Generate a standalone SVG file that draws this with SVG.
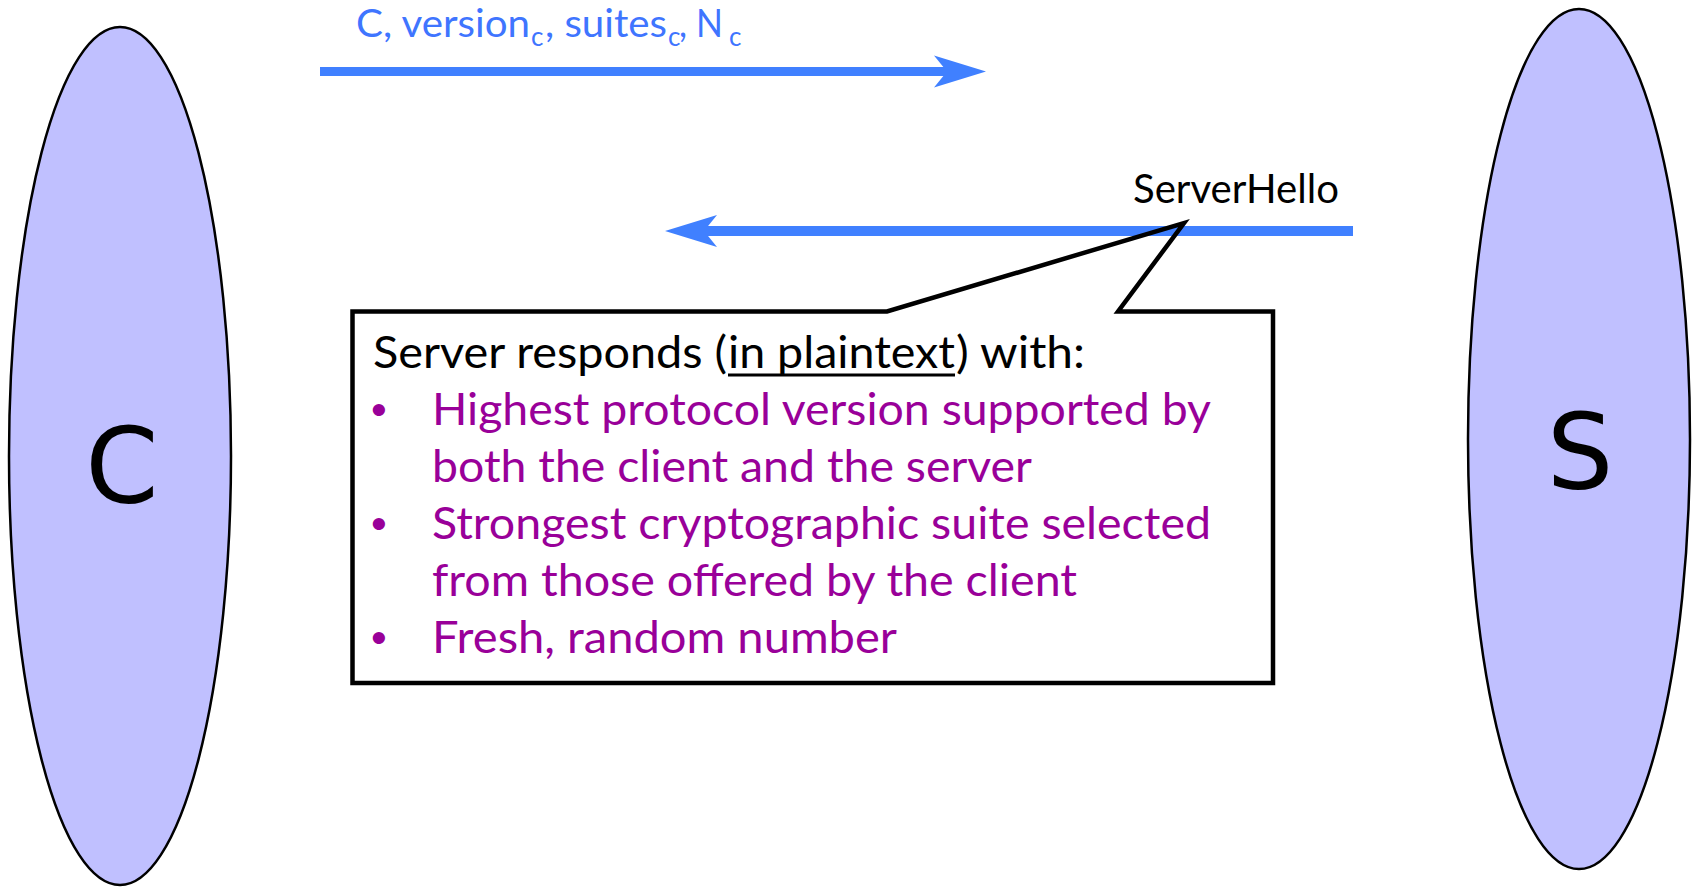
<svg xmlns="http://www.w3.org/2000/svg" width="1692" height="887" viewBox="0 0 1692 887">
<style>
.party{fill:#C0C0FF;stroke:#000;stroke-width:2.5}
.plabel{font-family:"DejaVu Sans",sans-serif;font-size:105px;fill:#000;text-anchor:middle}
.msg{stroke:#4080FF;fill:none}
.blue{font-family:Lato,"Liberation Sans",sans-serif;fill:#3F75FF}
.lbl{font-family:Lato,"Liberation Sans",sans-serif;fill:#000}
.boxfill{fill:#fff;stroke:none}
.box{fill:none;stroke:#000;stroke-width:4.5;stroke-linejoin:miter;stroke-miterlimit:12}
.bt{font-family:Lato,"Liberation Sans",sans-serif;font-size:45px;fill:#000}
.pt{font-family:Lato,"Liberation Sans",sans-serif;font-size:45px;fill:#990099}
.bul{font-family:"Liberation Sans",sans-serif;font-size:45px;fill:#990099;text-anchor:middle}
</style>
<defs>
<marker id="ah" markerUnits="userSpaceOnUse" markerWidth="60" markerHeight="40" viewBox="-15 -20 60 40" refX="0" refY="0" orient="auto" overflow="visible">
<path d="M39,0 L-13,-16 L0,0 L-13,16 Z" fill="#4080FF"/>
</marker>
</defs>
<g id="client">
<ellipse class="party" cx="120" cy="456" rx="111" ry="429"/>
<text class="plabel" x="122" y="503">C</text>
</g>
<g id="server">
<ellipse class="party" cx="1579" cy="439" rx="111" ry="430"/>
<text class="plabel" x="1580" y="489">S</text>
</g>
<g id="connectors">
<line class="msg" x1="320" y1="71.5" x2="947" y2="71.5" stroke-width="9" marker-end="url(#ah)"/>
<line class="msg" x1="1353" y1="231" x2="704" y2="231" stroke-width="10" marker-end="url(#ah)"/>
<text class="blue" font-size="39"><tspan x="356" y="37" textLength="174" lengthAdjust="spacingAndGlyphs">C, version</tspan><tspan x="531" y="46" font-size="26">c</tspan><tspan x="545" y="37" textLength="122" lengthAdjust="spacingAndGlyphs">, suites</tspan><tspan x="668" y="46" font-size="26">c</tspan><tspan x="679" y="37" textLength="44" lengthAdjust="spacingAndGlyphs">, N</tspan><tspan x="729" y="46" font-size="26">c</tspan></text>
<text class="lbl" x="1133" y="203" font-size="40" textLength="206" lengthAdjust="spacingAndGlyphs">ServerHello</text>
</g>
<g id="callout">
<rect class="boxfill" x="352.5" y="311.5" width="920.5" height="371.5"/>
<path class="box" d="M352.5,311.5 L887,311.5 L1184,223 L1118,311.5 L1273,311.5 L1273,683 L352.5,683 Z"/>
<text class="bt" x="373" y="368" textLength="354" lengthAdjust="spacingAndGlyphs">Server responds (</text>
<text class="bt" x="728" y="368" textLength="227" lengthAdjust="spacingAndGlyphs">in plaintext</text>
<line x1="728" y1="375" x2="955" y2="375" stroke="#000" stroke-width="3"/>
<text class="bt" x="956" y="368" textLength="129" lengthAdjust="spacingAndGlyphs">) with:</text>
<text class="bul" x="379" y="425">•</text>
<text class="pt" x="432" y="425" textLength="779" lengthAdjust="spacingAndGlyphs">Highest protocol version supported by</text>
<text class="pt" x="432" y="482" textLength="600" lengthAdjust="spacingAndGlyphs">both the client and the server</text>
<text class="bul" x="379" y="539">•</text>
<text class="pt" x="432" y="539" textLength="779" lengthAdjust="spacingAndGlyphs">Strongest cryptographic suite selected</text>
<text class="pt" x="432" y="596" textLength="645" lengthAdjust="spacingAndGlyphs">from those offered by the client</text>
<text class="bul" x="379" y="653">•</text>
<text class="pt" x="432" y="653" textLength="465" lengthAdjust="spacingAndGlyphs">Fresh, random number</text>
</g>
</svg>
